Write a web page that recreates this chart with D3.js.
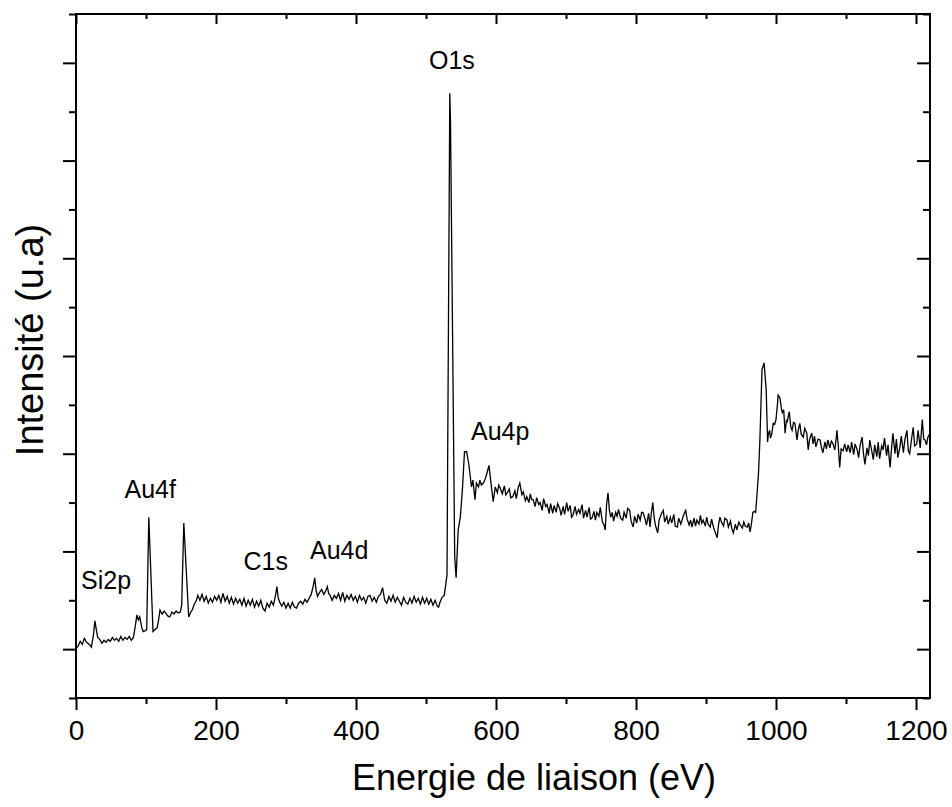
<!DOCTYPE html>
<html>
<head>
<meta charset="utf-8">
<script src="https://cdn.jsdelivr.net/npm/d3@7"></script>
<style>
  body { margin: 0; background: #fff; }
  text { font-family: "Liberation Sans", Arial, sans-serif; fill: #000; }
</style>
</head>
<body>
<div id="chart"></div>
<script>
// XPS survey spectrum, [binding energy (eV), intensity (arb. units)]
const spectrum = [
  [0,10.1],[3,10.3],[6,10.8],[9,10.5],[12,11.1],[15,10.7],[17,10.6],[20,10.4],[22,10.2],[25,11.5],
  [27,12.9],[29,12.0],[31,11.2],[34,11.0],[37,10.6],[40,10.9],[43,10.7],[46,11.0],[49,10.8],[52,11.2],
  [55,10.9],[58,11.1],[61,10.8],[64,11.3],[67,10.9],[70,11.2],[73,11.0],[76,11.3],[79,10.9],[82,11.2],
  [85,12.5],[87,13.5],[89,13.0],[91,13.3],[94,12.2],[96,11.8],[99,11.9],[101,12.0],[104,23.5],[110,11.8],
  [113,12.0],[116,12.2],[118,13.0],[120,14.0],[123,13.6],[126,13.9],[128,13.7],[131,13.4],[134,13.3],[137,13.8],
  [140,13.6],[143,13.9],[146,13.7],[149,13.8],[151,14.5],[154,22.9],[161,13.3],[164,13.8],[166,14.0],[169,14.6],
  [172,15.0],[174,15.5],[177,15.0],[180,15.6],[183,14.9],[186,15.4],[189,14.7],[192,15.2],[195,14.8],[198,15.4],
  [201,15.0],[204,15.5],[207,14.8],[210,15.7],[213,14.9],[216,15.4],[219,14.7],[222,15.3],[225,14.6],[228,15.2],
  [231,14.7],[234,15.1],[237,14.5],[240,15.2],[243,14.4],[246,15.0],[249,14.5],[252,15.1],[255,14.3],[258,14.9],
  [261,14.4],[264,15.0],[267,14.2],[270,13.9],[273,14.7],[276,14.3],[279,14.9],[282,14.5],[285,15.5],[287,16.4],
  [289,15.2],[291,14.8],[294,14.4],[297,14.8],[300,14.2],[303,14.7],[306,14.2],[309,14.8],[312,14.3],[315,14.2],
  [318,14.7],[321,14.9],[324,14.6],[327,15.1],[330,14.8],[333,15.2],[336,15.6],[339,16.5],[341,17.3],[343,16.0],
  [345,15.4],[348,15.8],[351,16.1],[354,15.6],[357,16.0],[359,16.4],[361,15.7],[363,15.5],[366,15.0],[369,15.5],
  [372,15.2],[375,15.7],[378,15.0],[381,15.8],[384,14.9],[387,15.5],[390,15.1],[393,15.6],[396,15.0],[399,15.4],
  [402,14.8],[405,15.5],[408,15.0],[411,15.3],[414,14.7],[417,15.4],[420,15.5],[423,14.9],[426,15.3],[429,14.8],
  [432,15.4],[435,15.6],[438,16.3],[441,15.0],[444,14.7],[447,15.4],[450,14.9],[453,15.5],[456,14.8],[459,15.3],
  [462,14.9],[465,14.5],[468,15.3],[471,14.8],[474,14.6],[477,15.2],[480,14.7],[483,15.4],[486,14.8],[489,15.2],
  [492,14.6],[495,15.3],[498,14.7],[501,15.2],[504,14.6],[507,15.1],[510,14.5],[513,15.0],[516,14.4],[518,14.3],
  [520,14.8],[523,15.3],[526,15.5],[528,16.5],[530,17.6],[534,66.9],[535,64.0],[541,19.5],[543,17.3],[546,22.2],
  [549,23.5],[552,26.3],[555,30.2],[558,30.2],[561,29.0],[565,26.6],[567,27.3],[570,25.3],[572,27.0],[575,26.6],
  [577,27.3],[579,26.8],[582,27.0],[585,27.5],[587,28.0],[590,28.8],[592,27.5],[594,26.3],[596,25.1],[599,26.6],
  [602,26.0],[604,26.8],[606,26.5],[609,25.9],[612,26.7],[614,25.8],[616,26.0],[619,26.4],[621,25.5],[624,25.6],
  [627,26.2],[629,25.4],[632,26.6],[634,27.0],[637,25.8],[639,26.1],[642,25.2],[644,25.6],[647,25.0],[649,25.9],
  [651,25.3],[653,25.3],[656,24.6],[658,25.5],[661,24.8],[663,25.0],[666,24.2],[668,25.4],[671,24.6],[673,24.8],
  [676,23.9],[678,24.9],[681,23.9],[683,24.7],[686,24.0],[688,24.9],[691,24.4],[693,23.7],[696,24.6],[698,23.8],
  [701,25.0],[703,24.1],[706,24.7],[708,23.5],[710,23.7],[713,24.6],[715,23.8],[718,24.3],[720,23.9],[723,24.8],
  [725,23.4],[728,24.2],[730,23.5],[733,24.5],[735,23.3],[737,23.4],[740,24.1],[742,23.2],[744,24.0],[747,23.6],
  [749,24.5],[752,23.0],[754,22.8],[756,22.2],[758,24.8],[760,26.0],[762,24.2],[764,23.5],[766,24.0],[768,23.1],
  [771,24.0],[773,23.6],[775,24.3],[778,23.4],[781,23.2],[783,24.0],[786,23.4],[788,24.4],[791,24.2],[793,23.1],
  [796,22.5],[798,23.6],[801,22.9],[803,23.8],[806,23.2],[808,24.0],[810,24.0],[813,23.3],[815,22.7],[818,23.9],
  [820,22.5],[822,24.0],[824,25.0],[826,23.4],[828,22.6],[831,21.9],[833,23.2],[836,23.8],[839,24.2],[841,23.0],
  [844,23.6],[846,22.8],[849,23.5],[851,22.9],[854,23.8],[856,22.6],[859,22.5],[861,23.4],[864,22.8],[867,23.5],
  [869,23.9],[871,24.2],[873,23.3],[876,22.7],[878,23.2],[880,22.5],[883,23.4],[885,22.6],[887,23.2],[890,22.8],
  [892,23.7],[894,22.9],[896,23.2],[899,22.6],[901,23.5],[903,22.8],[906,22.5],[908,23.3],[911,22.4],[913,22.0],
  [916,21.4],[918,22.8],[920,23.5],[922,23.0],[925,22.6],[927,23.4],[930,23.2],[932,22.5],[935,23.1],[937,22.3],
  [939,21.9],[942,22.8],[944,22.2],[947,23.0],[949,22.7],[952,22.4],[954,23.0],[956,22.6],[959,22.5],[961,22.9],
  [963,22.0],[965,22.9],[967,24.0],[969,24.1],[971,24.0],[975,28.0],[977,31.4],[980,38.6],[983,39.3],[986,36.5],
  [988,31.2],[989,32.0],[991,32.4],[992,31.6],[994,32.0],[996,33.1],[998,33.0],[1000,33.5],[1002,35.0],[1003,36.0],
  [1005,35.8],[1006,35.5],[1008,34.5],[1009,34.2],[1011,34.5],[1013,32.1],[1015,33.5],[1016,33.2],[1018,34.0],[1019,34.3],
  [1021,32.8],[1023,32.4],[1025,33.2],[1027,33.1],[1029,32.0],[1030,31.4],[1032,32.5],[1034,33.1],[1036,32.0],[1039,31.7],
  [1041,32.6],[1044,32.1],[1046,30.4],[1048,31.5],[1051,32.1],[1053,31.0],[1055,31.8],[1057,30.7],[1060,31.5],[1063,31.4],
  [1065,30.6],[1067,30.1],[1070,31.2],[1072,30.5],[1074,31.4],[1077,30.6],[1079,31.3],[1081,31.1],[1084,30.4],[1086,31.6],
  [1087,32.4],[1089,30.8],[1091,28.6],[1093,30.5],[1096,30.3],[1098,31.0],[1101,30.2],[1103,30.9],[1106,30.1],[1108,31.2],
  [1111,29.9],[1113,31.0],[1116,30.4],[1118,29.6],[1120,30.8],[1123,31.7],[1125,30.0],[1127,28.9],[1130,30.6],[1132,29.8],
  [1134,31.4],[1137,30.2],[1139,29.4],[1141,30.9],[1144,29.7],[1146,31.2],[1148,29.5],[1151,30.8],[1153,30.4],[1155,31.6],
  [1158,29.8],[1160,30.9],[1163,28.6],[1165,30.5],[1167,32.1],[1170,30.0],[1172,31.5],[1174,29.6],[1177,30.7],[1179,31.8],
  [1182,30.1],[1184,31.4],[1187,32.4],[1189,30.3],[1191,30.0],[1194,31.7],[1196,32.7],[1198,30.8],[1201,31.0],[1203,32.4],
  [1206,30.6],[1209,33.5],[1211,31.5],[1213,31.4],[1215,30.9],[1217,31.7],[1220,32.1]
];

// peak annotations: name, energy of label centre, intensity of label centre
const peakNames = ["Si2p", "Au4f", "C1s", "Au4d", "O1s", "Au4p"];
const peakEnergy = [43, 106, 271, 376, 537, 606];
const peakLevel = [17.1, 26.4, 19.0, 20.1, 70.3, 32.3];

const xMajor = [0, 200, 400, 600, 800, 1000, 1200];
const xMinor = [100, 300, 500, 700, 900, 1100];
const yMajor = [10, 20, 30, 40, 50, 60, 70];
const yMinor = [5, 15, 25, 35, 45, 55, 65, 75];

const W = 952, H = 807;
const margin = { top: 14, right: 22, bottom: 109, left: 76 };

const svg = d3.select("#chart").append("svg")
  .attr("width", W)
  .attr("height", H);

const x = d3.scaleLinear().domain([0, 1220]).range([margin.left, W - margin.right]);
const y = d3.scaleLinear().domain([5, 75]).range([H - margin.bottom, margin.top]);

// spectrum
svg.append("path")
  .datum(spectrum)
  .attr("fill", "none")
  .attr("stroke", "#000")
  .attr("stroke-width", 1.3)
  .attr("d", d3.line().x(d => x(d[0])).y(d => y(d[1])));

// axes: major + minor on each side, outer ticks on bottom/left, inner on top/right
function addAxis(axis, transform) {
  const g = svg.append("g").attr("transform", transform).call(axis);
  g.select(".domain").remove();
  g.selectAll(".tick line").attr("stroke", "#000").attr("stroke-width", 2);
  return g;
}
const yB = H - margin.bottom, xR = W - margin.right;

addAxis(d3.axisBottom(x).tickValues(xMajor).tickSize(12).tickPadding(10).tickFormat(d3.format("d")),
  `translate(0,${yB})`)
  .selectAll("text").style("font-size", "28px").attr("font-family", null);
addAxis(d3.axisBottom(x).tickValues(xMinor).tickSize(6).tickFormat(""), `translate(0,${yB})`);
addAxis(d3.axisTop(x).tickValues(xMajor).tickSize(-10).tickFormat(""), `translate(0,${margin.top})`);
addAxis(d3.axisTop(x).tickValues(xMinor).tickSize(-5).tickFormat(""), `translate(0,${margin.top})`);
addAxis(d3.axisLeft(y).tickValues(yMajor).tickSize(13).tickFormat(""), `translate(${margin.left},0)`);
addAxis(d3.axisLeft(y).tickValues(yMinor).tickSize(7).tickFormat(""), `translate(${margin.left},0)`);
addAxis(d3.axisRight(y).tickValues(yMajor).tickSize(-13).tickFormat(""), `translate(${xR},0)`);
addAxis(d3.axisRight(y).tickValues(yMinor).tickSize(-7).tickFormat(""), `translate(${xR},0)`);

// frame
svg.append("rect")
  .attr("x", margin.left).attr("y", margin.top)
  .attr("width", xR - margin.left).attr("height", yB - margin.top)
  .attr("fill", "none").attr("stroke", "#000").attr("stroke-width", 2);

// peak labels
svg.selectAll(".peak")
  .data(peakNames)
  .enter().append("text")
  .attr("class", "peak")
  .attr("x", (d, i) => x(peakEnergy[i]))
  .attr("y", (d, i) => y(peakLevel[i]))
  .attr("dy", "0.35em")
  .attr("text-anchor", "middle")
  .style("font-size", "25px")
  .text(d => d);

// axis titles
svg.append("text")
  .attr("x", 534)
  .attr("y", 790)
  .attr("text-anchor", "middle")
  .style("font-size", "36px")
  .text("Energie de liaison (eV)");

svg.append("text")
  .attr("transform", `translate(43,340) rotate(-90)`)
  .attr("text-anchor", "middle")
  .style("font-size", "38px")
  .text("Intensité (u.a)");
</script>
</body>
</html>
